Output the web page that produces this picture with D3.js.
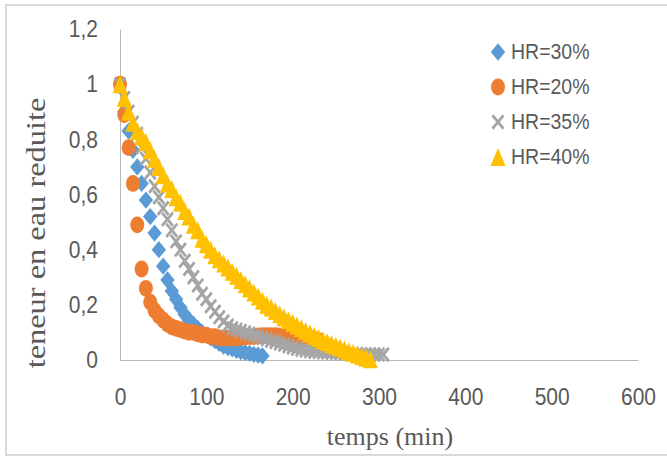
<!DOCTYPE html>
<html>
<head>
<meta charset="utf-8">
<title>teneur en eau reduite</title>
<script src="https://d3js.org/d3.v7.min.js"></script>
<style>
body { margin: 0; background: #fff; }
.tick text { font-family: "Liberation Sans", Arial, sans-serif; fill: #595959; }
.domain { stroke: #b8b8b8; }
</style>
</head>
<body>
<div id="chart"></div>
<script>

// temps (min), pas de 5 min
var temps = [0,5,10,15,20,25,30,35,40,45,50,55,60,65,70,75,80,85,90,95,
             100,105,110,115,120,125,130,135,140,145,150,155,160,165,170,175,180,185,190,195,
             200,205,210,215,220,225,230,235,240,245,250,255,260,265,270,275,280,285,290,295,
             300,305];

var hr30 = [1.00,0.90,0.83,0.76,0.70,0.64,0.58,0.52,0.46,0.40,0.34,0.29,0.25,0.22,0.19,0.165,0.145,0.13,0.115,0.10,
            0.09,0.08,0.07,0.06,0.05,0.045,0.04,0.035,0.03,0.027,0.024,0.02,0.018,0.015];
var hr20 = [1.00,0.89,0.77,0.64,0.49,0.33,0.26,0.21,0.18,0.16,0.145,0.13,0.12,0.115,0.11,0.105,0.10,0.10,0.095,0.09,
            0.09,0.085,0.085,0.08,0.08,0.08,0.08,0.08,0.082,0.083,0.085,0.085,0.087,0.088,0.088,0.088,0.088,0.087,0.086,0.085,
            0.084,0.083,0.082,0.08,0.078,0.075,0.07];
var hr35 = [1.00,0.95,0.90,0.86,0.82,0.77,0.73,0.68,0.63,0.59,0.55,0.51,0.47,0.43,0.40,0.36,0.33,0.30,0.27,0.24,
            0.22,0.195,0.175,0.155,0.14,0.125,0.115,0.11,0.105,0.10,0.095,0.09,0.085,0.08,0.075,0.07,0.065,0.06,0.055,0.05,
            0.045,0.041,0.037,0.034,0.032,0.03,0.029,0.028,0.027,0.026,0.025,0.024,0.023,0.023,0.022,0.022,0.021,0.021,0.02,0.02,
            0.02,0.02];
var hr40 = [1.00,0.95,0.90,0.86,0.83,0.81,0.79,0.76,0.73,0.70,0.67,0.64,0.62,0.59,0.57,0.54,0.52,0.49,0.47,0.44,
            0.42,0.40,0.38,0.365,0.35,0.335,0.32,0.305,0.29,0.275,0.26,0.245,0.23,0.215,0.20,0.19,0.178,0.166,0.155,0.145,
            0.135,0.125,0.115,0.105,0.097,0.088,0.08,0.072,0.065,0.058,0.052,0.045,0.039,0.032,0.026,0.02,0.014,0.008,0.003];

var seriesNames = ["HR=30%", "HR=20%", "HR=35%", "HR=40%"];
var xTicks = [0,100,200,300,400,500,600];
var yTicks = [0,0.2,0.4,0.6,0.8,1,1.2];
var yTickLabels = ["0","0,2","0,4","0,6","0,8","1","1,2"];

var seriesValues = [hr30, hr20, hr35, hr40];
var colors = ["#5b9bd5", "#ed7d31", "#a5a5a5", "#ffc000"];
var shapes = ["diamond", "circle", "x", "triangle"];

var width = 667,
    height = 457,
    stretch = 1.15;   // l'image d'origine est un peu etiree en hauteur

var svg = d3.select("#chart").append("svg")
    .attr("width", width)
    .attr("height", height);

// cadre
svg.append("rect")
    .attr("x", 6).attr("y", 5)
    .attr("width", 700).attr("height", 450)
    .attr("fill", "#fff")
    .attr("stroke", "#d9d9d9")
    .attr("stroke-width", 2);

var x = d3.scaleLinear().domain([0, 600]).range([120, 638]),
    y = d3.scaleLinear().domain([0, 1.2]).range([360, 29]);

var xAxis = svg.append("g")
    .attr("transform", "translate(0," + y(0) + ")")
    .call(d3.axisBottom(x).tickValues(xTicks).tickSize(0).tickPadding(24));
xAxis.selectAll("text")
    .style("font-size", "21px")
    .attr("transform", "scale(1," + stretch + ")");

var yAxis = svg.append("g")
    .attr("transform", "translate(" + x(0) + ",0)")
    .call(d3.axisLeft(y).tickValues(yTicks).tickSize(0).tickPadding(22)
          .tickFormat(function(d, i) { return yTickLabels[i]; }));
yAxis.selectAll("text")
    .style("font-size", "21px")
    .attr("transform", "scale(1," + stretch + ")");

// titres
svg.append("text")
    .attr("x", 390).attr("y", 445)
    .attr("text-anchor", "middle")
    .style("font-family", "'Liberation Serif', 'Times New Roman', serif")
    .style("font-size", "26px")
    .style("fill", "#595959")
    .text("temps (min)");

svg.append("text")
    .attr("transform", "translate(45,233) rotate(-90) scale(1.2,1)")
    .attr("text-anchor", "middle")
    .style("font-family", "'Liberation Serif', 'Times New Roman', serif")
    .style("font-size", "27px")
    .style("fill", "#595959")
    .text("teneur en eau reduite");

function marker(sel, shape, color) {
  if (shape == "x") {
    sel.attr("d", "M-5.5,-5.5L5.5,5.5M-5.5,5.5L5.5,-5.5")
       .attr("fill", "none").attr("stroke", color).attr("stroke-width", 2.6);
  } else {
    var d;
    if (shape == "diamond") d = "M0,-7.2L7.2,0L0,7.2L-7.2,0Z";
    if (shape == "circle") d = d3.symbol(d3.symbolCircle, Math.PI * 49)();
    if (shape == "triangle") d = "M0,-7.5L7.5,7.5L-7.5,7.5Z";
    sel.attr("d", d).attr("fill", color).attr("stroke", "none");
  }
}

seriesValues.forEach(function(vals, s) {
  svg.append("g")
    .selectAll("path")
    .data(d3.zip(temps, vals))
    .enter()
    .append("path")
    .attr("transform", function(d) {
      return "translate(" + x(d[0]) + "," + y(d[1]) + ") scale(1,1.2)";
    })
    .call(marker, shapes[s], colors[s]);
});

// legende
var legend = svg.append("g")
    .selectAll("g")
    .data(seriesNames)
    .enter()
    .append("g")
    .attr("transform", function(d, i) { return "translate(498," + (52 + i * 35) + ")"; });

legend.append("path")
    .attr("transform", "scale(1,1.2)")
    .each(function(d, i) { d3.select(this).call(marker, shapes[i], colors[i]); });

legend.append("text")
    .attr("x", 13)
    .attr("y", 6)
    .attr("transform", "scale(1," + stretch + ")")
    .style("font-family", "'Liberation Sans', Arial, sans-serif")
    .style("font-size", "19.5px")
    .style("fill", "#595959")
    .text(function(d) { return d; });

</script>
</body>
</html>
